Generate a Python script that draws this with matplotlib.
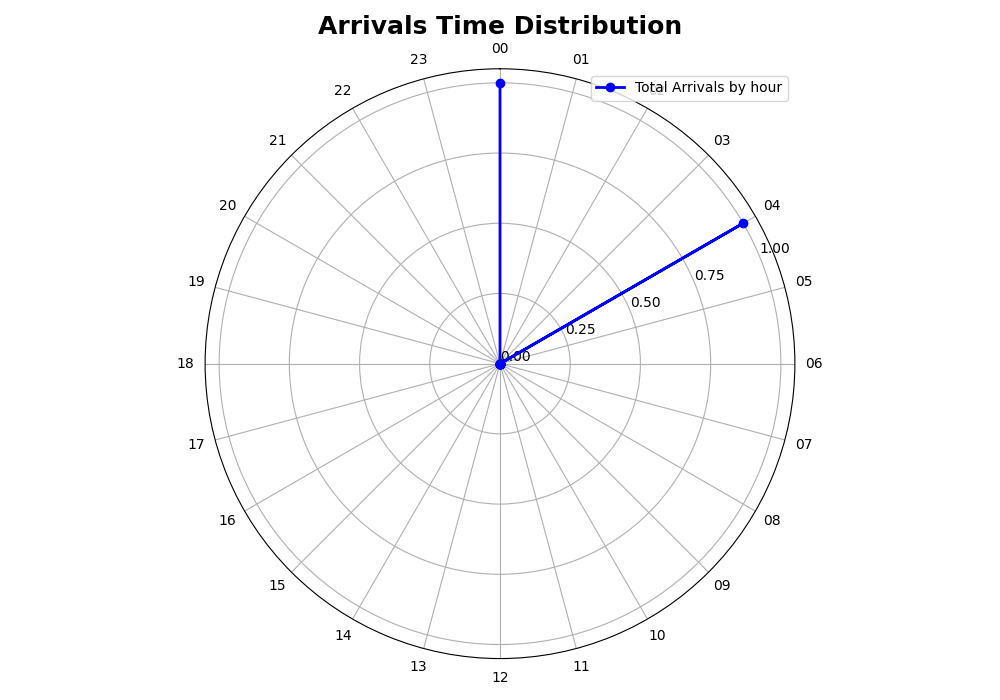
import numpy as np
import matplotlib
matplotlib.use("Agg")
import matplotlib.pyplot as plt

hours = ["%02d" % h for h in range(24)]
arrivals = [1, 0, 0, 0, 1, 0, 0, 0, 0, 0, 0, 0,
            0, 0, 0, 0, 0, 0, 0, 0, 0, 0, 0, 0]

theta = np.deg2rad(np.arange(24) * 15.0)

fig = plt.figure(figsize=(10, 7), dpi=100)
ax = fig.add_subplot(111, projection="polar")
ax.set_theta_zero_location("N")
ax.set_theta_direction(-1)
ax.plot(theta, arrivals, color="blue", marker="o", linewidth=2,
        label="Total Arrivals by hour")
ax.set_xticks(theta)
ax.set_xticklabels(hours)
ax.set_rticks([0, 0.25, 0.5, 0.75, 1.0])
ax.set_rlabel_position(67.5)
ax.set_title("Arrivals Time Distribution", fontsize=18, fontweight="bold")
ax.legend(loc="upper right")
fig.tight_layout()
fig.savefig("out.png")
